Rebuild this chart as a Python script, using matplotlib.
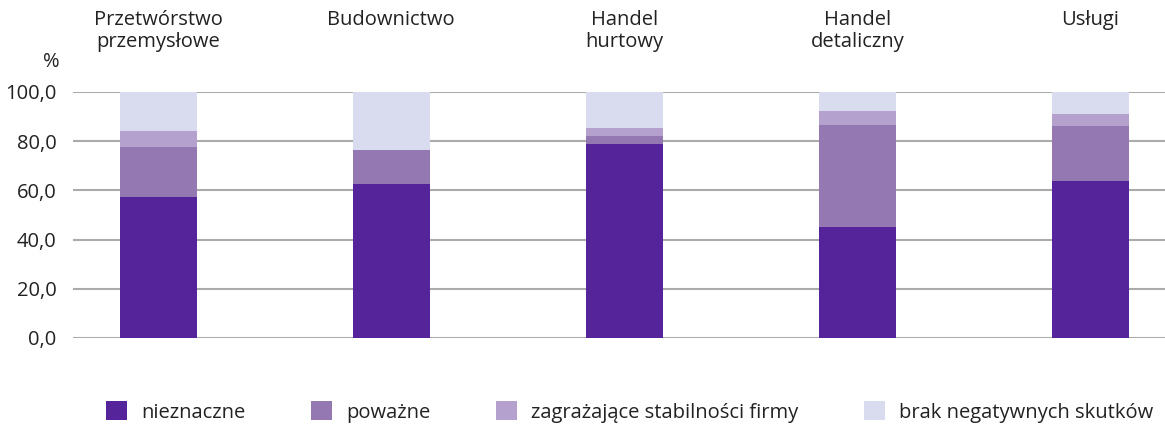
import matplotlib
matplotlib.use("Agg")
import matplotlib.pyplot as plt
import matplotlib.transforms as mtransforms
from matplotlib.patches import Patch

categories = ["Przetwórstwo\nprzemysłowe", "Budownictwo", "Handel\nhurtowy", "Handel\ndetaliczny", "Usługi"]
series_names = ["nieznaczne", "poważne", "zagrażające stabilności firmy", "brak negatywnych skutków"]
nieznaczne = [57.3, 62.6, 78.9, 45.2, 63.8]
powazne = [20.5, 13.8, 3.2, 41.4, 22.4]
zagrazajace = [6.3, 0.0, 3.3, 5.7, 4.9]
brak = [15.9, 23.6, 14.6, 7.7, 8.9]
yticks = [0, 20, 40, 60, 80, 100]
ytick_labels = ["0,0", "20,0", "40,0", "60,0", "80,0", "100,0"]

colors = ["#55239a", "#9378b2", "#b4a1cd", "#d9dbef"]

plt.rcParams['font.family'] = ['Open Sans', 'DejaVu Sans']
FS = 14.5
W, H = 1165, 426
fig = plt.figure(figsize=(W / 100, H / 100), dpi=100)
ax = fig.add_axes([73 / W, 1 - 338 / H, (1165 - 73) / W, (338 - 92) / H])

x = list(range(len(categories)))
bottom = [0.0] * len(categories)
for vals, col, name in zip([nieznaczne, powazne, zagrazajace, brak], colors, series_names):
    ax.bar(x, vals, bottom=bottom, width=0.33, color=col, label=name, zorder=3)
    bottom = [b + v for b, v in zip(bottom, vals)]

ax.set_xlim(-0.365, 4.32)
ax.set_ylim(0, 100)
ax.set_yticks(yticks)
ax.set_yticklabels(ytick_labels, fontsize=FS, color="#222222")
ax.set_xticks([])
ax.tick_params(axis='y', length=0, pad=12)
for s in ax.spines.values():
    s.set_visible(False)
ax.yaxis.grid(True, color="#ababab", linewidth=1.5, zorder=0)
ax.set_axisbelow(True)

trans = mtransforms.blended_transform_factory(ax.transData, fig.transFigure)
for xi, cat in zip(x, categories):
    ax.text(xi, 1 - 10 / H, cat, transform=trans, ha='center', va='top',
            fontsize=FS, color="#222222", linespacing=1.1)

fig.text(60 / W, 1 - 62 / H, "%", ha='right', va='center', fontsize=FS, color="#222222")

handles = [Patch(facecolor=c, edgecolor='none') for c in colors]
fig.legend(handles, series_names, loc='center', bbox_to_anchor=(629.5 / W, 1 - 412 / H),
           ncol=4, frameon=False, fontsize=FS, handlelength=1.05, handleheight=1.05,
           handletextpad=0.7, columnspacing=3.25, labelcolor="#222222")

fig.savefig("out.png", dpi=100)
